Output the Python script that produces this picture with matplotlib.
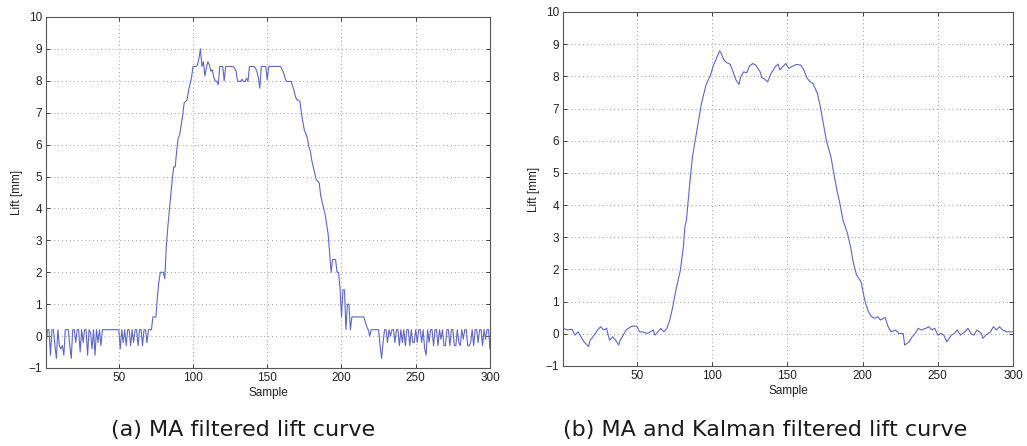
import numpy as np
import matplotlib
matplotlib.use("Agg")
import matplotlib.pyplot as plt

# (a) MA filtered lift curve, one value per sample (1..300)
lift_a = [
    -0.3, 0.2, 0.2, -0.6, 0.2, 0.2, -0.3, -0.7, 0.2, -0.3,
    -0.4, -0.3, -0.6, 0.2, 0.2, 0.2, -0.3, -0.7, 0.2, 0.2,
    -0.2, 0.2, 0.2, -0.5, 0.2, -0.2, 0.2, 0.2, -0.6, 0.2,
    0.1, -0.4, 0.2, -0.6, 0.2, -0.2, 0.2, -0.3, 0.2, 0.2,
    0.2, 0.2, 0.2, 0.2, 0.2, 0.2, 0.2, 0.2, 0.2, 0.2,
    -0.4, 0.2, -0.2, 0.2, -0.3, 0.2, 0.2, -0.3, 0.2, -0.2,
    0.2, 0.2, -0.3, 0.2, 0.2, -0.3, 0.2, 0.2, -0.2, 0.2,
    0.2, 0.2, 0.6, 0.6, 0.6, 1.2, 1.7, 2.0, 2.0, 2.0,
    1.8, 2.8, 3.4, 3.9, 4.4, 4.9, 5.3, 5.3, 5.8, 6.2,
    6.3, 6.6, 6.9, 7.3, 7.35, 7.4, 7.7, 7.9, 8.1, 8.45,
    8.45, 8.45, 8.5, 8.7, 9.0, 8.45, 8.6, 8.15, 8.4, 8.6,
    8.5, 8.3, 8.35, 8.1, 8.0, 7.98, 7.88, 8.45, 8.45, 8.45,
    8.0, 8.45, 8.45, 8.45, 8.45, 8.45, 8.45, 8.4, 8.3, 8.0,
    7.98, 7.98, 8.05, 7.98, 7.98, 8.08, 7.98, 8.45, 8.45, 8.45,
    8.45, 8.4, 8.3, 8.1, 7.77, 8.45, 8.45, 8.45, 8.45, 8.03,
    8.45, 8.45, 8.45, 8.45, 8.45, 8.45, 8.45, 8.45, 8.45, 8.35,
    8.25, 8.08, 7.98, 7.98, 7.98, 7.98, 7.85, 7.7, 7.5, 7.4,
    7.4, 7.35, 7.0, 6.7, 6.45, 6.35, 6.2, 5.95, 5.8, 5.5,
    5.3, 5.1, 4.9, 4.85, 4.8, 4.4, 4.2, 4.0, 3.8, 3.5,
    3.2, 2.6, 2.0, 2.4, 2.4, 2.4, 2.0, 2.0, 1.5, 0.6,
    1.45, 1.45, 0.2, 1.0, 1.0, 0.2, 0.6, 0.6, 0.6, 0.6,
    0.6, 0.6, 0.6, 0.6, 0.6, 0.45, 0.3, 0.2, 0.0, 0.2,
    0.2, 0.2, 0.2, 0.2, 0.2, -0.3, -0.7, -0.2, 0.2, 0.2,
    -0.2, 0.2, 0.0, 0.2, 0.2, -0.2, 0.2, 0.2, -0.3, 0.2,
    -0.2, 0.2, -0.3, 0.2, 0.2, -0.3, 0.2, -0.2, -0.2, 0.2,
    -0.2, 0.2, 0.2, -0.2, 0.2, -0.4, -0.6, 0.2, -0.2, 0.2,
    0.2, -0.3, 0.2, 0.2, -0.3, 0.2, -0.1, 0.2, -0.3, -0.3,
    0.2, 0.2, -0.3, 0.2, 0.2, -0.3, -0.3, 0.2, -0.2, -0.3,
    0.2, -0.1, 0.2, 0.2, -0.3, -0.3, -0.2, 0.2, -0.3, 0.2,
    0.2, -0.2, 0.2, 0.2, -0.3, 0.2, -0.1, 0.2, 0.2, -0.4,
]
sample_a = np.arange(1, len(lift_a) + 1)

sample_b = [1, 4, 7, 9, 11, 15, 18, 19, 21, 24, 26, 28, 30, 31, 32, 34, 36, 38, 39, 41,
            43, 46, 48, 50, 52, 54, 57, 59, 61, 62, 64, 66, 68, 70, 72, 74, 76, 79, 81, 82,
            83, 85, 87, 90, 93, 96, 99, 101, 103, 105, 106, 108, 110, 112, 114, 116, 118, 119, 121, 123,
            125, 127, 129, 132, 133, 135, 137, 139, 142, 144, 145, 147, 149, 151, 153, 156, 159, 161, 163, 165,
            167, 170, 172, 174, 176, 179, 181, 183, 185, 187, 190, 192, 194, 196, 199, 201, 202, 204, 206, 208,
            210, 212, 215, 217, 219, 222, 224, 227, 228, 231, 233, 235, 237, 239, 242, 244, 246, 248, 250, 252,
            254, 256, 259, 261, 263, 265, 268, 270, 272, 274, 276, 279, 280, 282, 285, 287, 289, 291, 293, 296,
            300]
lift_b = [0.17, 0.12, 0.14, -0.04, 0.06, -0.25, -0.40, -0.2, -0.09, 0.12, 0.22, 0.12, 0.17, -0.04, -0.2, -0.09, -0.2, -0.35, -0.2, -0.04,
          0.12, 0.22, 0.24, 0.24, 0.06, 0.06, 0.01, 0.06, 0.12, -0.04, 0.06, 0.17, 0.06, 0.17, 0.43, 0.85, 1.36, 1.98, 2.71, 3.33,
          3.53, 4.57, 5.5, 6.32, 7.16, 7.73, 8.04, 8.35, 8.56, 8.79, 8.73, 8.5, 8.42, 8.38, 8.14, 7.88, 7.75, 7.98, 8.14, 8.11,
          8.32, 8.4, 8.35, 8.14, 7.96, 7.91, 7.83, 8.07, 8.3, 8.38, 8.2, 8.3, 8.4, 8.25, 8.3, 8.37, 8.35, 8.2, 7.96, 7.83,
          7.78, 7.47, 7.05, 6.53, 6.0, 5.5, 4.97, 4.46, 4.04, 3.53, 3.12, 2.71, 2.19, 1.83, 1.62, 1.15, 0.95, 0.68, 0.53, 0.48,
          0.53, 0.43, 0.51, 0.22, 0.06, 0.12, 0.01, 0.01, -0.35, -0.25, -0.09, 0.01, 0.17, 0.12, 0.17, 0.22, 0.12, 0.17, -0.04, 0.01,
          -0.04, -0.25, -0.04, 0.01, 0.12, -0.04, 0.06, 0.17, 0.01, -0.04, 0.12, 0.01, -0.14, -0.04, 0.06, 0.22, 0.12, 0.22, 0.12, 0.06,
          0.06]

captions = ["(a) MA filtered lift curve", "(b) MA and Kalman filtered lift curve"]
yticks = list(range(-1, 11))
xticks = [50, 100, 150, 200, 250, 300]

line_col = "#5f66c2"
plt.rcParams["font.family"] = ["Liberation Sans", "DejaVu Sans"]
plt.rcParams["axes.unicode_minus"] = True

fig = plt.figure(figsize=(10.27, 4.46), dpi=100)
ax1 = fig.add_axes([0.0448, 0.1749, 0.4323, 0.787])
ax2 = fig.add_axes([0.5482, 0.1794, 0.4382, 0.7937])

ax1.plot(sample_a, lift_a, color=line_col, lw=0.8)
ax2.plot(sample_b, lift_b, color=line_col, lw=0.8)

for ax in (ax1, ax2):
    ax.set_xlim(1, 300)
    ax.set_ylim(-1, 10)
    ax.set_xticks(xticks)
    ax.set_yticks(yticks)
    ax.grid(True, linestyle=(0, (1, 3)), color="#999999", lw=0.7)
    ax.tick_params(direction="in", length=3, width=0.6, top=True, right=True,
                   labelsize=8.5, colors="#222222", pad=3)
    for sp in ax.spines.values():
        sp.set_color("#555555")
        sp.set_linewidth(0.8)
    ax.set_xlabel("Sample", fontsize=8.5, color="#222222", labelpad=2)
    ax.set_ylabel("Lift [mm]", fontsize=8.5, color="#222222", labelpad=4)

fig.text(0.2366, 0.036, captions[0], ha="center", va="center", fontsize=16,
         family="DejaVu Sans", color="#1a1a1a")
fig.text(0.745, 0.036, captions[1], ha="center", va="center", fontsize=16,
         family="DejaVu Sans", color="#1a1a1a")

fig.savefig("out.png", dpi=100)
